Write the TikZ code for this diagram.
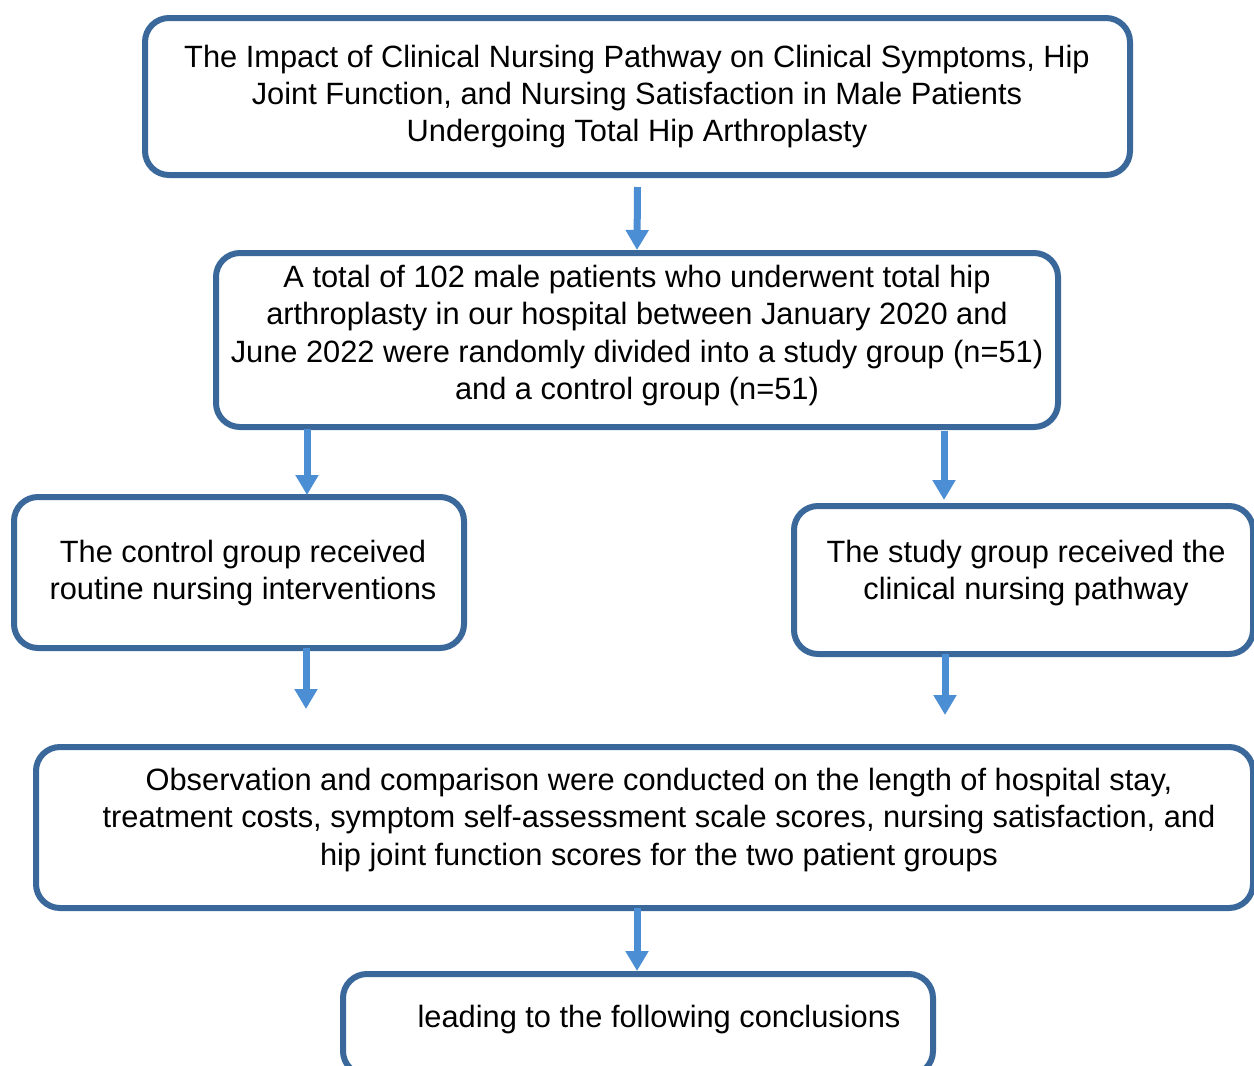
\documentclass[tikz,border=0pt]{standalone}
\usepackage{fontspec}
\setmainfont{Liberation Sans}
\usetikzlibrary{arrows.meta}
\definecolor{boxblue}{RGB}{58,104,155}
\definecolor{arrblue}{RGB}{76,142,212}
\begin{document}
\begin{tikzpicture}[x=0.5pt,y=-0.5pt,
  box/.style={draw=boxblue,line width=3pt,rounded corners=12pt,inner sep=0pt,outer sep=0pt,fill=white},
  txt/.style={align=center,font=\fontsize{15.4pt}{18.6pt}\selectfont,inner sep=0pt},
  arr/.style={draw=arrblue,line width=3.5pt,-{Triangle[width=11pt,length=10pt]}}]
\useasboundingbox (0,0) rectangle (1254,1066);
\clip (0,0) rectangle (1254,1066);
\fill[white] (0,0) rectangle (1254,1066);
% boxes
\node[box,minimum width=492.5pt,minimum height=78.5pt] (b1) at (637.5,96.5) {};
\node[box,minimum width=421pt,minimum height=87pt] (b2) at (637,340) {};
\node[box,minimum width=225pt,minimum height=75.5pt] (b3) at (239,572.5) {};
\node[box,minimum width=229.5pt,minimum height=74pt] (b4) at (1023.5,580) {};
\node[box,minimum width=608.5pt,minimum height=80.5pt] (b5) at (644.5,827.5) {};
\node[box,minimum width=295pt,minimum height=50.5pt] (b6) at (638,1024.5) {};
% texts
\node[txt] (t1) at (637,96.5) {The Impact of Clinical Nursing Pathway on Clinical Symptoms, Hip\\Joint Function, and Nursing Satisfaction in Male Patients\\Undergoing Total Hip Arthroplasty};
\node[txt] (t2) at (637,335.5) {A total of 102 male patients who underwent total hip\\arthroplasty in our hospital between January 2020 and\\June 2022 were randomly divided into a study group (n=51)\\and a control group (n=51)};
\node[txt] (t3) at (243,573) {The control group received\\routine nursing interventions};
\node[txt] (t4) at (1026,573) {The study group received the\\clinical nursing pathway};
\node[txt] (t5) at (659,820) {Observation and comparison were conducted on the length of hospital stay,\\treatment costs, symptom self-assessment scale scores, nursing satisfaction, and\\hip joint function scores for the two patient groups};
\node[txt] (t6) at (659,1020) {leading to the following conclusions};
% arrows
\draw[arr] ([yshift=-6pt]b1.south) -- ([yshift=1.5pt]b2.north);
\draw[arr] ([xshift=-165pt,yshift=-1pt]b2.south) -- ([xshift=34pt,yshift=1pt]b3.north);
\draw[arr] ([xshift=153.5pt,yshift=-2pt]b2.south) -- ([xshift=-39.75pt,yshift=3pt]b4.north);
\draw[arr] ([xshift=33.5pt]b3.south) -- ([xshift=33.5pt,yshift=-30.5pt]b3.south);
\draw[arr] ([xshift=-39.25pt]b4.south) -- ([xshift=-39.25pt,yshift=-30.5pt]b4.south);
\draw[arr] ([xshift=-3.75pt]b5.south) -- ([xshift=-0.5pt,yshift=1.5pt]b6.north);
\end{tikzpicture}
\end{document}
